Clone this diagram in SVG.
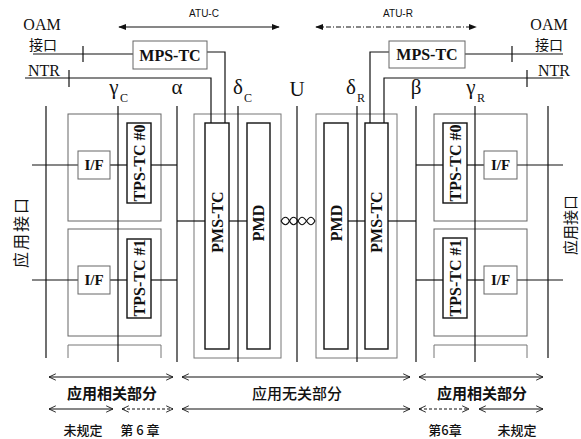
<svg xmlns="http://www.w3.org/2000/svg" width="581" height="439" viewBox="0 0 581 439">
<defs>
<style>
.ln{stroke:#111;stroke-width:1.2;fill:none}
.lt{stroke:#777;stroke-width:1;fill:none}
.bx{fill:#fff;stroke:#111;stroke-width:1.4}
.gb{fill:#fff;stroke:#666;stroke-width:1}
.ser{font-family:"Liberation Serif","Noto Sans CJK SC",serif;fill:#111}
.cjk{font-family:"Noto Sans CJK SC",sans-serif;fill:#111}
.san{font-family:"Liberation Sans",sans-serif;fill:#111}
.lbl{font-size:16px;text-anchor:middle;font-weight:bold}
.gr{font-size:21px;text-anchor:middle}
.sub{font-size:12px}
</style>
<marker id="fa" viewBox="0 0 10 10" refX="9" refY="5" markerWidth="8" markerHeight="8" orient="auto-start-reverse" markerUnits="userSpaceOnUse">
<path d="M0,1 L10,5 L0,9 Z" fill="#111"/>
</marker>
<marker id="oa" viewBox="0 0 10 10" refX="9.5" refY="5" markerWidth="8" markerHeight="8" orient="auto-start-reverse" markerUnits="userSpaceOnUse">
<path d="M1,1 L9.5,5 L1,9" fill="none" stroke="#111" stroke-width="1.1"/>
</marker>
</defs>
<rect width="581" height="439" fill="#fff"/>

<!-- top labels and range arrows -->
<g id="atu-labels">
<text class="san" x="204" y="17" font-size="10" text-anchor="middle">ATU-C</text>
<line class="ln" x1="119" y1="27" x2="279" y2="27" stroke-width="1" marker-start="url(#fa)" marker-end="url(#fa)"/>
<text class="san" x="398" y="17" font-size="10" text-anchor="middle">ATU-R</text>
<line class="ln" x1="316" y1="27" x2="476" y2="27" stroke-width="1" stroke-dasharray="5,2,1,2" marker-start="url(#fa)" marker-end="url(#fa)"/>
</g>

<g id="oam-left">
<text class="ser" x="42" y="30" font-size="16" text-anchor="middle">OAM</text>
<text class="cjk" x="43" y="50" font-size="14" text-anchor="middle">接口</text>
</g>
<g id="oam-right">
<text class="ser" x="549" y="30" font-size="16" text-anchor="middle">OAM</text>
<text class="cjk" x="549" y="50" font-size="14" text-anchor="middle">接口</text>
</g>
<g id="ntr-left"><text class="ser" x="44" y="76" font-size="16" text-anchor="middle">NTR</text></g>
<g id="ntr-right"><text class="ser" x="554" y="76" font-size="16" text-anchor="middle">NTR</text></g>

<!-- reference point labels -->
<g id="ref-points">
<text class="ser gr" x="114" y="94">γ</text><text class="ser sub" x="120" y="102">C</text>
<text class="ser gr" x="177" y="94">α</text>
<text class="ser gr" x="238" y="94">δ</text><text class="ser sub" x="244" y="102">C</text>
<text class="ser gr" x="297" y="96">U</text>
<text class="ser gr" x="351" y="94">δ</text><text class="ser sub" x="357" y="102">R</text>
<text class="ser gr" x="416" y="94">β</text>
<text class="ser gr" x="471" y="94">γ</text><text class="ser sub" x="477" y="102">R</text>
</g>

<!-- side labels -->
<g id="app-if-left"><text class="cjk" x="0" y="0" font-size="16" text-anchor="middle" letter-spacing="2" transform="translate(27,232) rotate(-90)">应用接口</text></g>
<g id="app-if-right"><text class="cjk" x="0" y="0" font-size="15" text-anchor="middle" transform="translate(576,225) rotate(-90)">应用接口</text></g>

<!-- group outlines -->
<g id="block-c0"><rect class="gb" x="68" y="114" width="93" height="107"/></g>
<g id="block-c1"><rect class="gb" x="68" y="229" width="93" height="107"/></g>
<g id="block-c2"><path class="lt" d="M68,358 V345 H161 V358"/></g>
<g id="block-r0"><rect class="gb" x="434" y="114" width="93" height="107"/></g>
<g id="block-r1"><rect class="gb" x="434" y="229" width="93" height="107"/></g>
<g id="block-r2"><path class="lt" d="M434,358 V345 H527 V358"/></g>
<g id="atu-c-box"><rect class="lt" x="194" y="114" width="87" height="244" stroke="#333" stroke-width="1.1"/></g>
<g id="atu-r-box"><rect class="lt" x="316" y="114" width="81" height="244" stroke="#333" stroke-width="1.1"/></g>

<!-- connectors -->
<g id="connectors">
<line class="ln" x1="46" y1="106" x2="46" y2="358"/>
<line class="ln" x1="118" y1="106" x2="118" y2="362"/>
<line class="ln" x1="177" y1="106" x2="177" y2="362"/>
<line class="ln" x1="238" y1="106" x2="238" y2="362"/>
<line class="ln" x1="297" y1="106" x2="297" y2="362"/>
<line class="ln" x1="357" y1="106" x2="357" y2="362"/>
<line class="ln" x1="416" y1="106" x2="416" y2="362"/>
<line class="ln" x1="475" y1="106" x2="475" y2="362"/>
<line class="ln" x1="548" y1="106" x2="548" y2="358"/>
<line class="ln" x1="33" y1="54" x2="133" y2="54"/>
<line class="ln" x1="83" y1="46" x2="83" y2="62"/>
<polyline class="ln" points="207,52 225,52 225,123"/>
<polyline class="ln" points="25,78 211,78 211,123"/>
<line class="ln" x1="69" y1="70" x2="69" y2="87"/>
<line class="ln" x1="465" y1="54" x2="563" y2="54"/>
<line class="ln" x1="512" y1="46" x2="512" y2="62"/>
<polyline class="ln" points="389,52 370,52 370,123"/>
<polyline class="ln" points="563,78 384,78 384,123"/>
<line class="ln" x1="527" y1="70" x2="527" y2="87"/>
<line class="ln" x1="32" y1="165" x2="78" y2="165"/>
<line class="ln" x1="110" y1="165" x2="127" y2="165"/>
<line class="ln" x1="151" y1="165" x2="177" y2="165"/>
<line class="ln" x1="32" y1="280" x2="78" y2="280"/>
<line class="ln" x1="110" y1="280" x2="127" y2="280"/>
<line class="ln" x1="151" y1="280" x2="177" y2="280"/>
<line class="ln" x1="177" y1="221" x2="205" y2="221"/>
<line class="ln" x1="229" y1="221" x2="247" y2="221"/>
<line class="ln" x1="348" y1="221" x2="365" y2="221"/>
<line class="ln" x1="388" y1="221" x2="416" y2="221"/>
<line class="ln" x1="416" y1="165" x2="443" y2="165"/>
<line class="ln" x1="467" y1="165" x2="484" y2="165"/>
<line class="ln" x1="517" y1="165" x2="563" y2="165"/>
<line class="ln" x1="416" y1="280" x2="443" y2="280"/>
<line class="ln" x1="467" y1="280" x2="484" y2="280"/>
<line class="ln" x1="517" y1="280" x2="563" y2="280"/>
<path class="ln" stroke-width="1" d="M281,221 C284,216 287,216 289.5,221 S295,226 298,221 S303,216 306.5,221 S312,226 315,221"/>
<path class="ln" stroke-width="1" d="M281,221 C284,226 287,226 289.5,221 S295,216 298,221 S303,226 306.5,221 S312,216 315,221"/>
</g>

<!-- functional blocks -->
<g id="mps-tc-c"><rect class="gb" x="133" y="41" width="74" height="28" stroke="#444"/><text class="ser lbl" x="170" y="61">MPS-TC</text></g>
<g id="mps-tc-r"><rect class="gb" x="389" y="41" width="76" height="27" stroke="#444"/><text class="ser lbl" x="427" y="60">MPS-TC</text></g>

<g id="if-c0"><rect class="gb" x="78" y="151" width="32" height="28"/><text class="ser" x="94" y="170" font-size="15" font-weight="bold" text-anchor="middle">I/F</text></g>
<g id="if-c1"><rect class="gb" x="78" y="266" width="32" height="28"/><text class="ser" x="94" y="285" font-size="15" font-weight="bold" text-anchor="middle">I/F</text></g>
<g id="tps-tc-c0"><rect class="bx" x="127" y="123" width="24" height="80"/><text class="ser lbl" font-size="15" transform="translate(145,163) rotate(-90)">TPS-TC #0</text></g>
<g id="tps-tc-c1"><rect class="bx" x="127" y="239" width="24" height="79"/><text class="ser lbl" font-size="15" transform="translate(145,278) rotate(-90)">TPS-TC #1</text></g>

<g id="pms-tc-c"><rect class="bx" x="205" y="123" width="24" height="226"/><text class="ser lbl" transform="translate(223,222) rotate(-90)">PMS-TC</text></g>
<g id="pmd-c"><rect class="bx" x="247" y="123" width="23" height="226"/><text class="ser lbl" transform="translate(264,223) rotate(-90)">PMD</text></g>
<g id="pmd-r"><rect class="bx" x="324" y="123" width="24" height="226"/><text class="ser lbl" transform="translate(342,223) rotate(-90)">PMD</text></g>
<g id="pms-tc-r"><rect class="bx" x="365" y="123" width="23" height="226"/><text class="ser lbl" transform="translate(382,222) rotate(-90)">PMS-TC</text></g>

<g id="tps-tc-r0"><rect class="bx" x="443" y="123" width="24" height="80"/><text class="ser lbl" font-size="15" transform="translate(461,163) rotate(-90)">TPS-TC #0</text></g>
<g id="tps-tc-r1"><rect class="bx" x="443" y="238" width="24" height="80"/><text class="ser lbl" font-size="15" transform="translate(461,278) rotate(-90)">TPS-TC #1</text></g>
<g id="if-r0"><rect class="gb" x="484" y="151" width="33" height="28"/><text class="ser" x="500.5" y="170" font-size="15" font-weight="bold" text-anchor="middle">I/F</text></g>
<g id="if-r1"><rect class="gb" x="484" y="266" width="33" height="28"/><text class="ser" x="500.5" y="285" font-size="15" font-weight="bold" text-anchor="middle">I/F</text></g>

<!-- bottom scope annotations -->
<g id="scope">
<line class="ln" x1="49" y1="377" x2="173" y2="377" stroke-width="1" marker-start="url(#oa)" marker-end="url(#oa)"/>
<line class="ln" x1="182" y1="377" x2="410" y2="377" stroke-width="1" marker-start="url(#oa)" marker-end="url(#oa)"/>
<line class="ln" x1="419" y1="377" x2="543" y2="377" stroke-width="1" marker-start="url(#oa)" marker-end="url(#oa)"/>
<text class="cjk" x="112" y="399" font-size="15" font-weight="700" text-anchor="middle">应用相关部分</text>
<text class="cjk" x="297" y="399" font-size="15" font-weight="500" text-anchor="middle">应用无关部分</text>
<text class="cjk" x="482" y="399" font-size="15" font-weight="700" text-anchor="middle">应用相关部分</text>
<line class="ln" x1="49" y1="409" x2="113" y2="409" stroke-width="1" marker-start="url(#oa)" marker-end="url(#oa)"/>
<line class="ln" x1="122" y1="409" x2="173" y2="409" stroke-width="1" stroke-dasharray="3,2" marker-start="url(#oa)" marker-end="url(#oa)"/>
<line class="ln" x1="182" y1="409" x2="410" y2="409" stroke-width="1" marker-start="url(#oa)" marker-end="url(#oa)"/>
<line class="ln" x1="419" y1="409" x2="469" y2="409" stroke-width="1" stroke-dasharray="3,2" marker-start="url(#oa)" marker-end="url(#oa)"/>
<line class="ln" x1="479" y1="409" x2="543" y2="409" stroke-width="1" marker-start="url(#oa)" marker-end="url(#oa)"/>
<text class="cjk" x="83" y="435" font-size="13" font-weight="500" text-anchor="middle">未规定</text>
<text class="cjk" x="140" y="435" font-size="13" font-weight="500" text-anchor="middle">第 6 章</text>
<text class="cjk" x="445" y="435" font-size="13" font-weight="500" text-anchor="middle">第6章</text>
<text class="cjk" x="517" y="435" font-size="13" font-weight="500" text-anchor="middle">未规定</text>
</g>
</svg>
